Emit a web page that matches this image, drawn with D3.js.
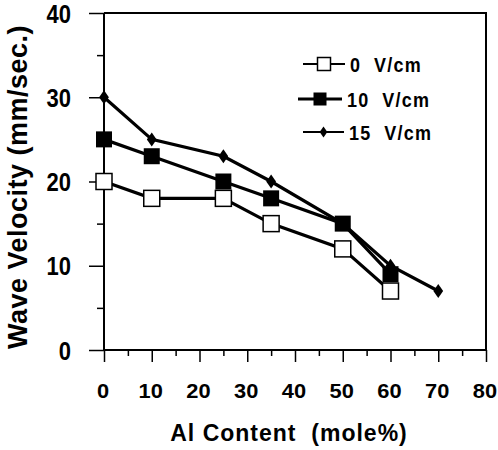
<!DOCTYPE html>
<html>
<head>
<meta charset="utf-8">
<script src="https://cdn.jsdelivr.net/npm/d3@7"></script>
<style>
  body { margin: 0; background: #fff; }
  text { font-family: "Liberation Sans", Arial, sans-serif; font-weight: bold; fill: #000; }
</style>
</head>
<body>
<script>
// data
const alContent0 = [0, 10, 25, 35, 50, 60];
const velocity0 = [20, 18, 18, 15, 12, 7];
const alContent10 = [0, 10, 25, 35, 50, 60];
const velocity10 = [25, 23, 20, 18, 15, 9];
const alContent15 = [0, 10, 25, 35, 50, 60, 70];
const velocity15 = [30, 25, 23, 20, 15, 10, 7];
const seriesNames = ["0  V/cm", "10  V/cm", "15  V/cm"];
const xTicks = [0, 10, 20, 30, 40, 50, 60, 70, 80];
const yTicks = [0, 10, 20, 30, 40];

const width = 498, height = 450;

const x = d3.scaleLinear().domain([0, 80]).range([104, 486]);
const y = d3.scaleLinear().domain([0, 40]).range([350, 13]);

const series = [
  { name: seriesNames[2], marker: "diamond", pts: alContent15.map((d, i) => ({ x: d, y: velocity15[i] })) },
  { name: seriesNames[1], marker: "filled", pts: alContent10.map((d, i) => ({ x: d, y: velocity10[i] })) },
  { name: seriesNames[0], marker: "open", pts: alContent0.map((d, i) => ({ x: d, y: velocity0[i] })) },
];

const svg = d3.create("svg").attr("width", width).attr("height", height);
svg.append("rect").attr("width", width).attr("height", height).attr("fill", "#fff");

// frame top and right
svg.append("path")
  .attr("d", `M${x(0)},${y(40)}H${x(80)}V${y(0)}`)
  .attr("fill", "none").attr("stroke", "#000").attr("stroke-width", 2);

// x axis
const xAxis = svg.append("g").attr("transform", `translate(0,${y(0)})`)
  .call(d3.axisBottom(x).tickValues(d3.range(0, 81, 5)).tickSize(6).tickFormat(""));
xAxis.select(".domain").attr("stroke-width", 2).attr("d", `M${x(0)},0H${x(80)}`);
xAxis.selectAll(".tick line").attr("stroke-width", 1.5)
  .attr("y2", d => (d % 10 === 0 ? 12 : 6));
svg.append("g").selectAll("text").data(xTicks).join("text")
  .attr("transform", d => `translate(${x(d) - 1},398) scale(1.04,1)`)
  .attr("text-anchor", "middle").attr("font-size", 21)
  .text(d => d);

// y axis
const yAxis = svg.append("g").attr("transform", `translate(${x(0)},0)`)
  .call(d3.axisLeft(y).tickValues(d3.range(0, 41, 5)).tickSize(8).tickFormat(""));
yAxis.select(".domain").attr("stroke-width", 2).attr("d", `M0,${y(0)}V${y(40)}`);
yAxis.selectAll(".tick line").attr("stroke-width", 1.5)
  .attr("x2", d => (d % 10 === 0 ? -15 : -7));
svg.append("g").selectAll("text").data(yTicks).join("text")
  .attr("transform", d => `translate(71,${y(d) + 9.5}) scale(1,1.2)`)
  .attr("text-anchor", "end").attr("font-size", 22)
  .text(d => d);

// axis titles
svg.append("text")
  .attr("transform", "translate(27,187) rotate(-90)")
  .attr("text-anchor", "middle").attr("font-size", 27)
  .attr("letter-spacing", 0.5)
  .text("Wave Velocity (mm/sec.)");
svg.append("text")
  .attr("x", 289).attr("y", 441)
  .attr("text-anchor", "middle").attr("font-size", 23)
  .attr("letter-spacing", 1).style("white-space", "pre")
  .text("Al Content  (mole%)");

const line = d3.line().x(d => x(d.x)).y(d => y(d.y));

function drawMarker(g, type, cx, cy, s) {
  if (type === "open") {
    g.append("rect").attr("x", cx - s / 2).attr("y", cy - s / 2).attr("width", s).attr("height", s)
      .attr("fill", "#fff").attr("stroke", "#000").attr("stroke-width", 1.5);
  } else if (type === "filled") {
    g.append("rect").attr("x", cx - s / 2).attr("y", cy - s / 2).attr("width", s).attr("height", s)
      .attr("fill", "#000");
  } else {
    const w = s * 0.35, h = s * 0.5;
    g.append("path").attr("d", `M${cx},${cy - h}L${cx + w},${cy}L${cx},${cy + h}L${cx - w},${cy}Z`)
      .attr("fill", "#000");
  }
}

const plot = svg.append("g");
series.forEach(s => {
  plot.append("path").datum(s.pts).attr("d", line)
    .attr("fill", "none").attr("stroke", "#000").attr("stroke-width", 3.2);
  const mg = plot.append("g");
  s.pts.forEach(p => drawMarker(mg, s.marker, x(p.x), y(p.y), s.marker === "diamond" ? 14 : 16));
});

// legend
const legendRows = [
  { name: seriesNames[0], marker: "open", y: 64, x0: 303, x1: 345, tx: 350 },
  { name: seriesNames[1], marker: "filled", y: 99, x0: 298, x1: 342, tx: 347 },
  { name: seriesNames[2], marker: "diamond", y: 132, x0: 303, x1: 344, tx: 349 },
];
const legend = svg.append("g");
legendRows.forEach(r => {
  legend.append("line").attr("x1", r.x0).attr("x2", r.x1).attr("y1", r.y).attr("y2", r.y)
    .attr("stroke", "#000").attr("stroke-width", r.marker === "filled" ? 3 : 2);
  drawMarker(legend, r.marker, (r.x0 + r.x1) / 2, r.y, r.marker === "diamond" ? 11 : 13);
  legend.append("text").attr("transform", `translate(${r.tx},${r.y + 7.5}) scale(1,1.15)`)
    .attr("font-size", 18).attr("letter-spacing", 1.3).style("white-space", "pre")
    .text(r.name);
});

d3.select("body").append(() => svg.node());
</script>
</body>
</html>
